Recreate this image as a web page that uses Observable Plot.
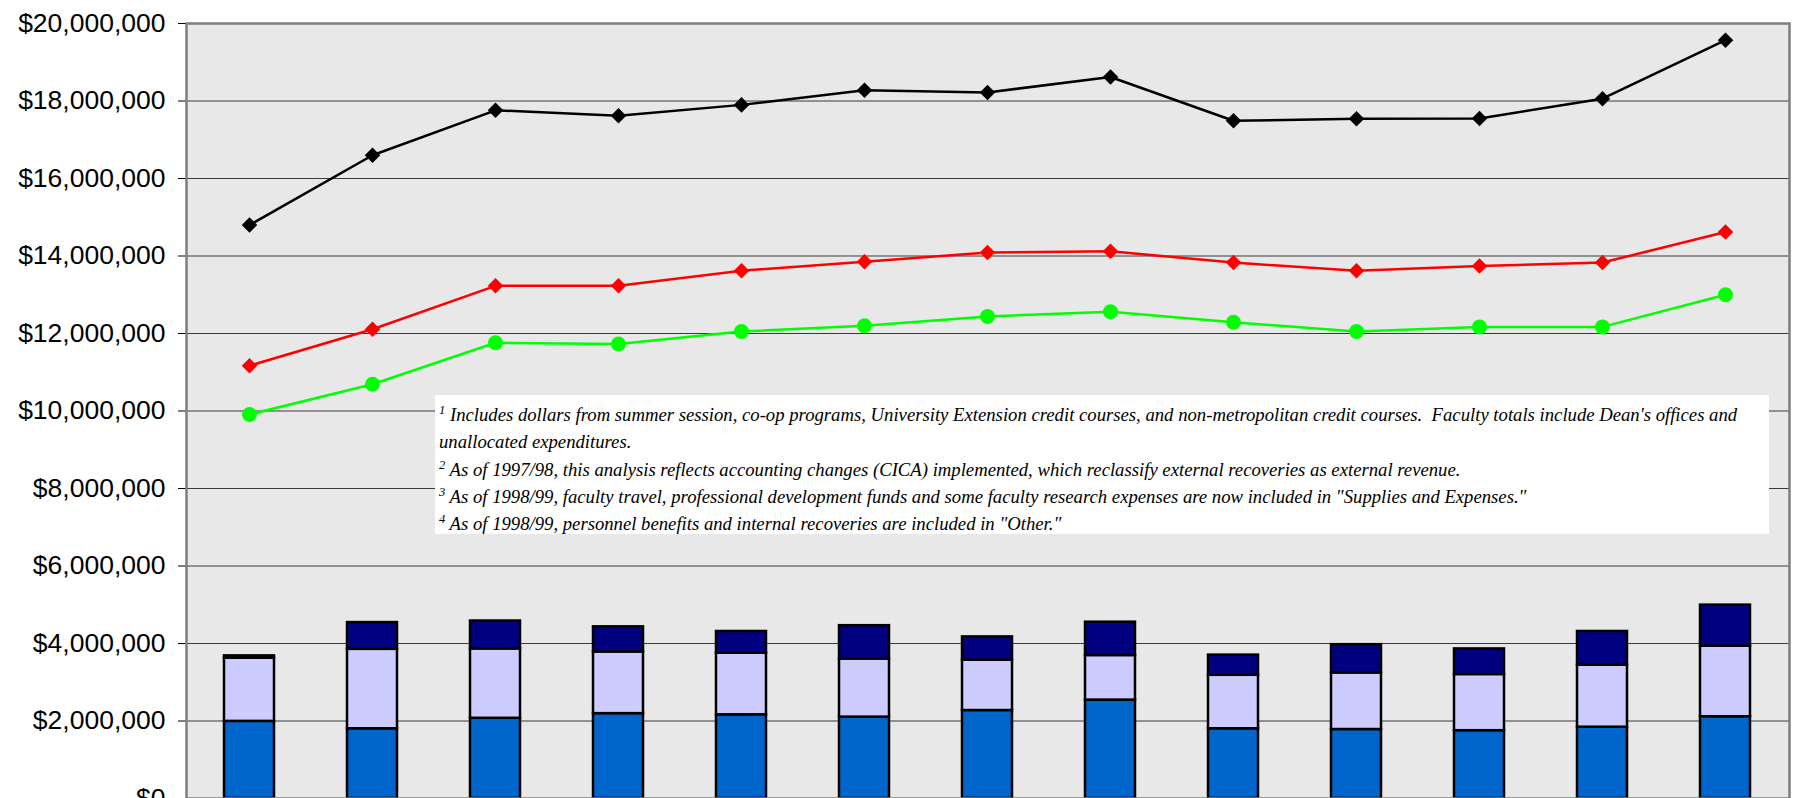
<!DOCTYPE html>
<html>
<head>
<meta charset="utf-8">
<script src="https://cdn.jsdelivr.net/npm/d3@7"></script>
<script src="https://cdn.jsdelivr.net/npm/@observablehq/plot@0.6"></script>
<style>
  html, body { margin: 0; padding: 0; background: #fff; overflow: hidden; }
  #wrap { position: relative; width: 1796px; height: 830px; }
  #note {
    position: absolute; left: 435px; top: 395px; width: 1334px; height: 139px;
    background: #fff; box-sizing: border-box; padding: 6px 0 0 4px;
    font-family: "Liberation Serif", "Times New Roman", serif; font-style: italic;
    font-size: 18.7px; line-height: 27.3px; color: #000;
  }
  #note div { white-space: pre; }
  #note sup { font-size: 12.5px; vertical-align: 7px; line-height: 0; }
</style>
</head>
<body>
<div id="wrap"></div>
<script>
// ---- data ----
const years = ["1990/91","1991/92","1992/93","1993/94","1994/95","1995/96","1996/97","1997/98","1998/99","1999/00","2000/01","2001/02","2002/03"];

const seriesNames = ["Salaries", "Supplies and Expenses", "Other", "Total", "Operating Total", "Salaries Total"];
const seriesColors = ["#0066cc", "#ccccff", "#000080", "#000000", "#ff0000", "#00ff00"];

// stacked bars
const salaries  = [1990000, 1800000, 2070000, 2190000, 2160000, 2100000, 2270000, 2540000, 1800000, 1780000, 1750000, 1840000, 2110000];
const supplies  = [1630000, 2050000, 1790000, 1590000, 1590000, 1500000, 1300000, 1150000, 1380000, 1460000, 1450000, 1600000, 1820000];
const other     = [  60000,  690000,  720000,  650000,  560000,  860000,  600000,  860000,  520000,  730000,  660000,  870000, 1060000];

// lines
const totalLine     = [14800000, 16600000, 17760000, 17620000, 17900000, 18280000, 18220000, 18620000, 17490000, 17540000, 17550000, 18060000, 19570000];
const operatingLine = [11170000, 12110000, 13230000, 13230000, 13620000, 13850000, 14090000, 14120000, 13830000, 13620000, 13740000, 13830000, 14620000];
const salaryLine    = [ 9910000, 10690000, 11760000, 11730000, 12050000, 12200000, 12440000, 12560000, 12290000, 12050000, 12170000, 12170000, 13000000];

const yTicks = [0, 2000000, 4000000, 6000000, 8000000, 10000000, 12000000, 14000000, 16000000, 18000000, 20000000];

// ---- tables for the library ----
const barData = [];
[[seriesNames[0], salaries], [seriesNames[1], supplies], [seriesNames[2], other]].forEach(([s, vals]) =>
  vals.forEach((v, i) => barData.push({year: years[i], series: s, value: v})));

const lineData = [];
[[seriesNames[3], totalLine], [seriesNames[4], operatingLine], [seriesNames[5], salaryLine]].forEach(([s, vals]) =>
  vals.forEach((v, i) => lineData.push({year: years[i], series: s, value: v})));

const diamondData = lineData.filter(d => d.series !== seriesNames[5]);
const circleData = lineData.filter(d => d.series === seriesNames[5]);

const chart = Plot.plot({
  width: 1796,
  height: 830,
  marginLeft: 186,
  marginRight: 7,
  marginTop: 23,
  marginBottom: 32,
  style: {fontFamily: "'Liberation Sans', Arial, sans-serif", fontSize: "26.5px", color: "#000", background: "transparent"},
  x: {type: "band", domain: years, paddingInner: 0.59, paddingOuter: 0.295, axis: null},
  y: {domain: [0, 20000000], ticks: yTicks, tickFormat: d3.format("$,.0f"), tickSize: 8, tickPadding: 13, label: null},
  color: {domain: seriesNames, range: seriesColors},
  marks: [
    Plot.frame({fill: "#e8e8e8", stroke: null}),
    Plot.ruleY(yTicks.slice(1), {stroke: "#3a3a3a", strokeWidth: 1.2}),
    Plot.barY(barData, {x: "year", y: "value", fill: "series", stroke: "#000", strokeWidth: 2.5}),
    Plot.line(lineData, {x: "year", y: "value", z: "series", stroke: "series", strokeWidth: 2.5}),
    Plot.dot(diamondData, {x: "year", y: "value", fill: "series", symbol: "diamond2", r: 7}),
    Plot.dot(circleData, {x: "year", y: "value", fill: "series", r: 7.5}),
    Plot.frame({stroke: "#7f7f7f", strokeWidth: 2.5})
  ]
});
document.getElementById("wrap").appendChild(chart);

const note = document.createElement("div");
note.id = "note";
note.innerHTML =
  '<div><sup>1</sup> Includes dollars from summer session, co-op programs, University Extension credit courses, and non-metropolitan credit courses.  Faculty totals include Dean\'s offices and</div>' +
  '<div>unallocated expenditures.</div>' +
  '<div><sup>2</sup> As of 1997/98, this analysis reflects accounting changes (CICA) implemented, which reclassify external recoveries as external revenue.</div>' +
  '<div><sup>3</sup> As of 1998/99, faculty travel, professional development funds and some faculty research expenses are now included in "Supplies and Expenses."</div>' +
  '<div><sup>4</sup> As of 1998/99, personnel benefits and internal recoveries are included in "Other."</div>';
document.getElementById("wrap").appendChild(note);
</script>
</body>
</html>
